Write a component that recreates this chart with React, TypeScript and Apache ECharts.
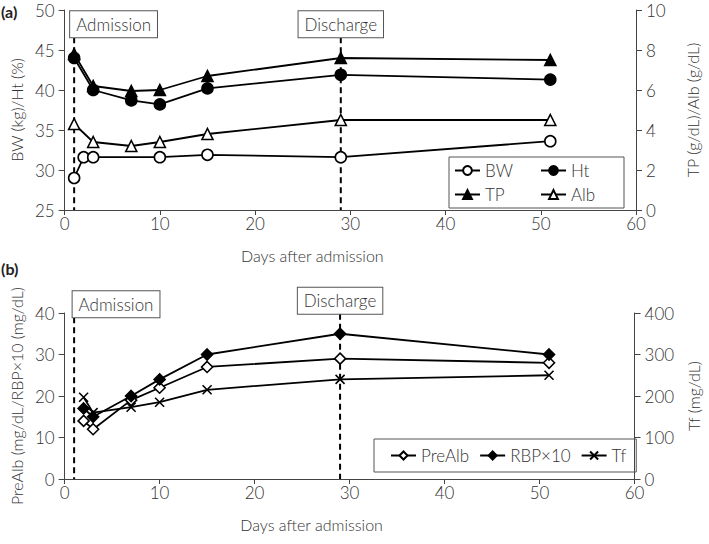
import React, { useEffect, useRef } from "react";
import * as echarts from "echarts";

// ---- Data (panel a) ----
const bwDays = [1, 2, 3, 10, 15, 29, 51];
const bwValues = [29, 31.6, 31.6, 31.6, 31.9, 31.6, 33.6];
const labDays = [1, 3, 7, 10, 15, 29, 51];
const htValues = [44, 40, 38.7, 38.2, 40.2, 41.9, 41.3];
const tpValues = [7.8, 6.2, 5.95, 6.0, 6.7, 7.6, 7.5];
const albValues = [4.3, 3.4, 3.2, 3.4, 3.8, 4.5, 4.5];

// ---- Data (panel b) ----
const bDays = [2, 3, 7, 10, 15, 29, 51];
const preAlbValues = [14, 12, 19, 22, 27, 29, 28];
const rbpValues = [17, 15, 20, 24, 30, 35, 30];
const tfValues = [197, 160, 173, 185, 215, 240, 250];

const admissionDay = 1;
const dischargeDay = 29;
const eventLabels = ["Admission", "Discharge"];
const legendA = ["BW", "Ht", "TP", "Alb"];
const legendB = ["PreAlb", "RBP×10", "Tf"];

const FONT = "Lato";
const W = 300;
const TXT = "#333";
const AX = "#444";

const pair = (xs: number[], ys: number[]) => xs.map((x, i) => [x, ys[i]]);

function lineSeries(
  name: string,
  data: number[][],
  symbol: string,
  size: number,
  filled: boolean,
  xAxisIndex: number,
  yAxisIndex: number
) {
  return {
    name,
    type: "line",
    xAxisIndex,
    yAxisIndex,
    data,
    symbol,
    symbolSize: size,
    showSymbol: true,
    lineStyle: { color: "#000", width: 1.8 },
    itemStyle: {
      color: filled ? "#000" : "#fff",
      borderColor: "#000",
      borderWidth: 1.6,
    },
    z: 3,
  };
}

function dashed(name: string, x: number, yTop: number, yBottom: number, xi: number, yi: number) {
  return {
    name,
    type: "line",
    xAxisIndex: xi,
    yAxisIndex: yi,
    data: [
      [x, yTop],
      [x, yBottom],
    ],
    symbol: "none",
    silent: true,
    lineStyle: { color: "#000", width: 2, type: [6, 4] },
    z: 2,
  };
}

function xAxisCfg(gridIndex: number) {
  return {
    gridIndex,
    type: "value",
    min: 0,
    max: 60,
    interval: 10,
    axisLine: { show: true, onZero: false, lineStyle: { color: AX, width: 1 } },
    axisTick: { show: true, inside: false, length: 5, lineStyle: { color: AX } },
    axisLabel: { margin: 5, fontSize: 17, color: TXT, fontFamily: FONT, fontWeight: W },
    splitLine: { show: false },
    name: "Days after admission",
    nameLocation: "middle",
    nameGap: 37,
    nameTextStyle: { fontSize: 16, color: TXT, fontFamily: FONT, fontWeight: W, padding: [0, 76, 0, 0] },
  };
}

function yAxisCfg(
  gridIndex: number,
  position: string,
  min: number,
  max: number,
  interval: number,
  name: string,
  nameGap: number
) {
  return {
    gridIndex,
    type: "value",
    position,
    min,
    max,
    interval,
    axisLine: { show: true, onZero: false, lineStyle: { color: AX, width: 1 } },
    axisTick: { show: true, inside: false, length: 6, lineStyle: { color: AX } },
    axisLabel: { margin: 10, fontSize: 17, color: TXT, fontFamily: FONT, fontWeight: W },
    splitLine: { show: false },
    name,
    nameLocation: "middle",
    nameGap,
    nameTextStyle: { fontSize: 16, color: TXT, fontFamily: FONT, fontWeight: W },
  };
}

const xSymbol = "path://M0,0L10,10M10,0L0,10";

export default function App() {
  const ref = useRef<HTMLDivElement>(null);
  useEffect(() => {
    document.body.style.margin = "0";
    if (!ref.current) return;
    const chart = echarts.init(ref.current, undefined, { renderer: "svg" });
    const topY = 46.6;
    const admTopB = 39;
    const disTopB = 39.8;
    chart.setOption({
      animation: false,
      backgroundColor: "#fff",
      grid: [
        { left: 63, top: 10, width: 573, height: 200 },
        { left: 63, top: 313, width: 573, height: 166 },
      ],
      xAxis: [xAxisCfg(0), xAxisCfg(1)],
      yAxis: [
        yAxisCfg(0, "left", 25, 50, 5, "BW (kg)/Ht (%)", 34),
        yAxisCfg(0, "right", 0, 10, 2, "TP (g/dL)/Alb (g/dL)", 48),
        yAxisCfg(1, "left", 0, 40, 10, "PreAlb (mg/dL/RBP×10 (mg/dL)", 34),
        yAxisCfg(1, "right", 0, 400, 100, "Tf (mg/dL)", 48),
      ],
      legend: [
        {
          data: legendA,
          left: 449,
          top: 157,
          width: 168,
          orient: "horizontal",
          padding: [5, 5, 5, 5],
          itemGap: 7,
          itemWidth: 25,
          itemHeight: 11,
          borderColor: "#555",
          borderWidth: 1,
          selectedMode: false,
          textStyle: { fontSize: 17, color: TXT, fontFamily: FONT, fontWeight: W, width: 48, lineHeight: 16 },
        },
        {
          data: legendB,
          left: 374,
          top: 439,
          orient: "horizontal",
          padding: [8, 10, 8, 16],
          itemGap: 10,
          itemWidth: 25,
          itemHeight: 10,
          borderColor: "#555",
          borderWidth: 1,
          selectedMode: false,
          textStyle: { fontSize: 17, color: TXT, fontFamily: FONT, fontWeight: W, lineHeight: 16 },
        },
      ],
      series: [
        dashed("admA", admissionDay, topY, 25, 0, 0),
        dashed("disA", dischargeDay, topY, 25, 0, 0),
        dashed("admB", admissionDay, admTopB, 0, 1, 2),
        dashed("disB", dischargeDay, disTopB, 0, 1, 2),
        lineSeries("BW", pair(bwDays, bwValues), "circle", 11, false, 0, 0),
        lineSeries("Ht", pair(labDays, htValues), "circle", 11, true, 0, 0),
        lineSeries("TP", pair(labDays, tpValues), "triangle", 11, true, 0, 1),
        lineSeries("Alb", pair(labDays, albValues), "triangle", 11, false, 0, 1),
        lineSeries("PreAlb", pair(bDays, preAlbValues), "diamond", 11, false, 1, 2),
        lineSeries("RBP×10", pair(bDays, rbpValues), "diamond", 11, true, 1, 2),
        lineSeries("Tf", pair(bDays, tfValues), xSymbol, 9, false, 1, 3),
      ],
    });

    const pA = chart.convertToPixel({ xAxisIndex: 0, yAxisIndex: 0 }, [admissionDay, topY]) as number[];
    const pD = chart.convertToPixel({ xAxisIndex: 0, yAxisIndex: 0 }, [dischargeDay, topY]) as number[];
    const pAb = chart.convertToPixel({ xAxisIndex: 1, yAxisIndex: 2 }, [admissionDay, admTopB]) as number[];
    const pDb = chart.convertToPixel({ xAxisIndex: 1, yAxisIndex: 2 }, [dischargeDay, disTopB]) as number[];

    const box = (text: string, x: number, y: number, align: string) => ({
      type: "text",
      x,
      y,
      z: 10,
      style: {
        text,
        align,
        verticalAlign: "bottom",
        fontSize: 17,
        fontFamily: FONT,
        fontWeight: W,
        fill: TXT,
        lineHeight: 18,
        padding: [4, 6, 4, 6],
        backgroundColor: "#fff",
        borderColor: "#555",
        borderWidth: 1,
      },
    });

    chart.setOption({
      graphic: [
        box(eventLabels[0], pA[0] - 4, pA[1], "left"),
        box(eventLabels[1], pD[0], pD[1], "center"),
        box(eventLabels[0], pAb[0] - 1.5, pAb[1], "left"),
        box(eventLabels[1], pDb[0], pDb[1], "center"),
        {
          type: "text",
          x: 1,
          y: 11,
          style: { text: "(a)", fontSize: 16, fontWeight: "bold", fontFamily: FONT, fill: "#222", verticalAlign: "middle" },
        },
        {
          type: "text",
          x: 1,
          y: 268,
          style: { text: "(b)", fontSize: 16, fontWeight: "bold", fontFamily: FONT, fill: "#222", verticalAlign: "middle" },
        },
      ],
    });

    return () => chart.dispose();
  }, []);
  return <div ref={ref} style={{ width: 709, height: 544 }} />;
}
